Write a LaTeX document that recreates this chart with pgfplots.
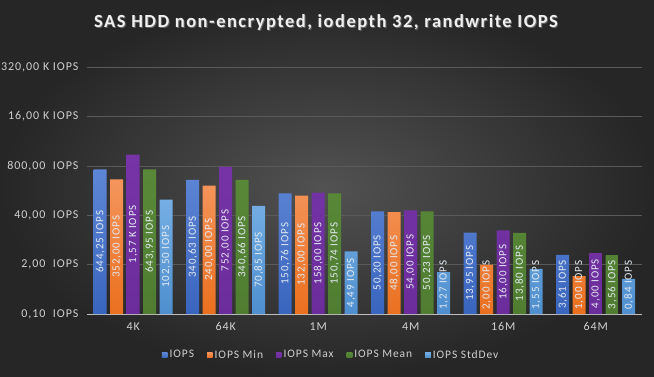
\documentclass[border=0pt]{standalone}
\usepackage{fontspec}
\setmainfont{Carlito}
\newfontfamily\spaced[LetterSpace=8]{Carlito}
\usepackage{pgfplots}
\pgfplotsset{compat=1.18}
\definecolor{bgin}{HTML}{525252}
\definecolor{bgout}{HTML}{262626}
\definecolor{gridc}{HTML}{5A5A5A}
\definecolor{txt}{HTML}{D0D0D0}
\definecolor{lbl}{HTML}{E4EAF2}
\definecolor{c1t}{HTML}{5E86D6}\definecolor{c1b}{HTML}{3A65BE}
\definecolor{c2t}{HTML}{F5955C}\definecolor{c2b}{HTML}{EA701F}
\definecolor{c3t}{HTML}{7634A6}\definecolor{c3b}{HTML}{6C2D9C}
\definecolor{c4t}{HTML}{598938}\definecolor{c4b}{HTML}{507D31}
\definecolor{c5t}{HTML}{74AEE3}\definecolor{c5b}{HTML}{4F8FCF}
\begin{document}
\begin{tikzpicture}
\shade[inner color=bgin, outer color=bgout] (0pt,0pt) rectangle (654pt,376pt);
\useasboundingbox (0pt,0pt) rectangle (654pt,376pt);
\node[text=black!60, font=\spaced\bfseries\fontsize{18.5}{19}\selectfont] at (327pt,353pt) {SAS HDD non-encrypted, iodepth 32, randwrite IOPS};
\node[text=white!94!black, font=\spaced\bfseries\fontsize{18.5}{19}\selectfont] at (326pt,354pt) {SAS HDD non-encrypted, iodepth 32, randwrite IOPS};
\begin{axis}[
  at={(87pt,62pt)}, anchor=south west,
  width=555pt, height=247pt, scale only axis,
  ymode=log, ymin=0.1, ymax=320000, log origin y=infty,
  xmin=-0.5, xmax=5.5,
  ybar=3.5pt, bar width=13pt,
  ytick={0.1,2,40,800,16000,320000},
  yticklabels={{0,10\ \ IOPS},{2,00\ \ IOPS},{40,00\ \ IOPS},{800,00\ \ IOPS},{16,00 K IOPS},{320,00 K IOPS}},
  xtick={0,1,2,3,4,5},
  xticklabels={4K,64K,1M,4M,16M,64M},
  axis x line*=bottom, axis y line*=left,
  x axis line style={draw=black!25, line width=0.8pt},
  y axis line style={draw=none},
  major tick length=0pt, tick style={draw=none},
  ymajorgrids, grid style={draw=gridc, line width=0.6pt},
  ticklabel style={text=txt, font=\spaced\fontsize{12}{13}\selectfont},
  yticklabel style={xshift=-5pt},
  xticklabel style={yshift=-5pt},
  point meta=explicit symbolic,
  nodes near coords,
  visualization depends on={rawy \as \rawy},
  every node near coord/.append style={font=\spaced\fontsize{11}{11}\selectfont, text=lbl, anchor=center,
     yshift={-(16.4901*ln(10*\rawy)-max(8.24505*ln(10*\rawy),29))}, rotate=90},
  legend columns=-1,
  legend style={at={(0.44,-0.166)}, anchor=center, draw=none, fill=none, text=txt,
     font=\spaced\fontsize{11.5}{12}\selectfont,
     /tikz/every even column/.append style={column sep=11pt}},
  legend image code/.code={\fill[#1] (0pt,-2.8pt) rectangle (5.6pt,2.8pt);},
]
\addplot[draw=none, top color=c1t, bottom color=c1b] coordinates {(0,644.25)[644,25 IOPS] (1,340.63)[340,63 IOPS] (2,150.76)[150,76 IOPS] (3,50.20)[50,20 IOPS] (4,13.95)[13,95 IOPS] (5,3.61)[3,61 IOPS]};
\addplot[draw=none, top color=c2t, bottom color=c2b] coordinates {(0,352)[352,00 IOPS] (1,240)[240,00 IOPS] (2,132)[132,00 IOPS] (3,48)[48,00 IOPS] (4,2)[2,00 IOPS] (5,1)[1,00 IOPS]};
\addplot[draw=none, top color=c3t, bottom color=c3b] coordinates {(0,1570)[1,57 K IOPS] (1,752)[752,00 IOPS] (2,158)[158,00 IOPS] (3,54)[54,00 IOPS] (4,16)[16,00 IOPS] (5,4)[4,00 IOPS]};
\addplot[draw=none, top color=c4t, bottom color=c4b] coordinates {(0,643.95)[643,95 IOPS] (1,340.66)[340,66 IOPS] (2,150.74)[150,74 IOPS] (3,50.23)[50,23 IOPS] (4,13.80)[13,80 IOPS] (5,3.56)[3,56 IOPS]};
\addplot[draw=none, top color=c5t, bottom color=c5b] coordinates {(0,102.50)[102,50 IOPS] (1,70.85)[70,85 IOPS] (2,4.49)[4,49 IOPS] (3,1.27)[1,27 IOPS] (4,1.55)[1,55 IOPS] (5,0.84)[0,84 IOPS]};
\legend{IOPS,IOPS Min,IOPS Max,IOPS Mean,IOPS StdDev}
\end{axis}
\end{tikzpicture}
\end{document}
